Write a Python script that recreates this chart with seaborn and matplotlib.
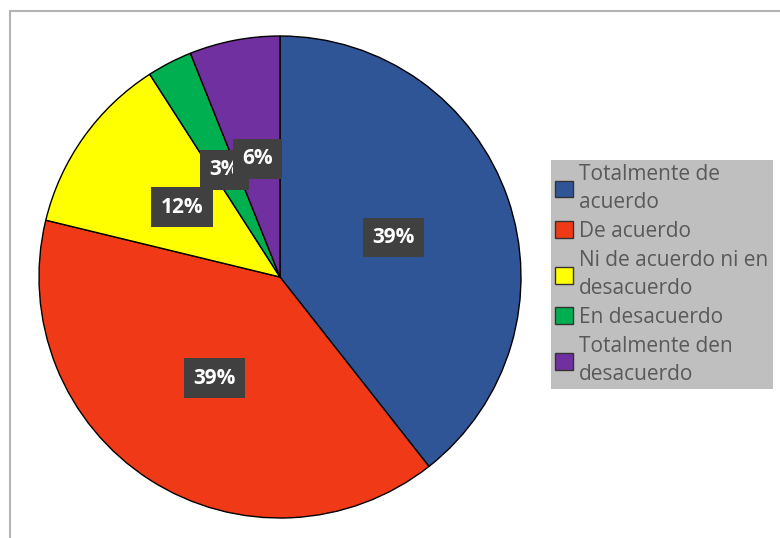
import matplotlib
matplotlib.use('Agg')
import matplotlib.pyplot as plt
import seaborn as sns
from matplotlib.lines import Line2D

# Data: answer categories and counts
categories = ['Totalmente de\nacuerdo', 'De acuerdo', 'Ni de acuerdo ni en\ndesacuerdo',
              'En desacuerdo', 'Totalmente den\ndesacuerdo']
counts = [13, 13, 4, 1, 2]
colors = ['#2F5597', '#F03A17', '#FFFF00', '#00B050', '#7030A0']

sns.set_style('white')
plt.rcParams['font.family'] = ['Open Sans', 'DejaVu Sans']

fig = plt.figure(figsize=(7.8, 5.38), dpi=100)
ax = fig.add_axes([39 / 780, 20 / 538, 482 / 780, 482 / 538])

palette = sns.color_palette(colors)
wedges, texts, autotexts = ax.pie(
    counts, colors=palette, startangle=90, counterclock=False,
    autopct='%1.0f%%', pctdistance=0.5, radius=1,
    wedgeprops={'edgecolor': 'black', 'linewidth': 1.0})

for t in autotexts:
    t.set_color('white')
    t.set_fontweight('bold')
    t.set_fontsize(15)
    t.set_bbox({'facecolor': '#404040', 'edgecolor': 'none', 'boxstyle': 'square,pad=0.45'})

ax.set_xlim(-1.0, 1.0)
ax.set_ylim(-1.0, 1.0)
ax.set_aspect('equal')
ax.axis('off')

# Legend with grey background on the right
leg = fig.legend(wedges, categories, loc='upper left',
                 bbox_to_anchor=(551 / 780, 1 - 160 / 538),
                 frameon=True, fancybox=False, fontsize=15,
                 handlelength=0.85, handleheight=0.85, handletextpad=0.3,
                 labelspacing=0.4, borderpad=0.2, borderaxespad=0)
leg.get_frame().set_facecolor('#BFBFBF')
leg.get_frame().set_edgecolor('none')
leg.get_frame().set_alpha(1)
for txt in leg.get_texts():
    txt.set_color('#595959')
    txt.set_linespacing(1.4)
for h in leg.legend_handles:
    h.set_edgecolor('#333333')
    h.set_linewidth(1.0)

# Chart area border (top and left visible)
fig.add_artist(Line2D([10 / 780, 1], [1 - 10.5 / 538, 1 - 10.5 / 538], color='#B4B4B4', lw=1.5))
fig.add_artist(Line2D([10 / 780, 10 / 780], [0, 1 - 10.5 / 538], color='#B4B4B4', lw=1.5))

fig.savefig('out.png', dpi=100, facecolor='white')
